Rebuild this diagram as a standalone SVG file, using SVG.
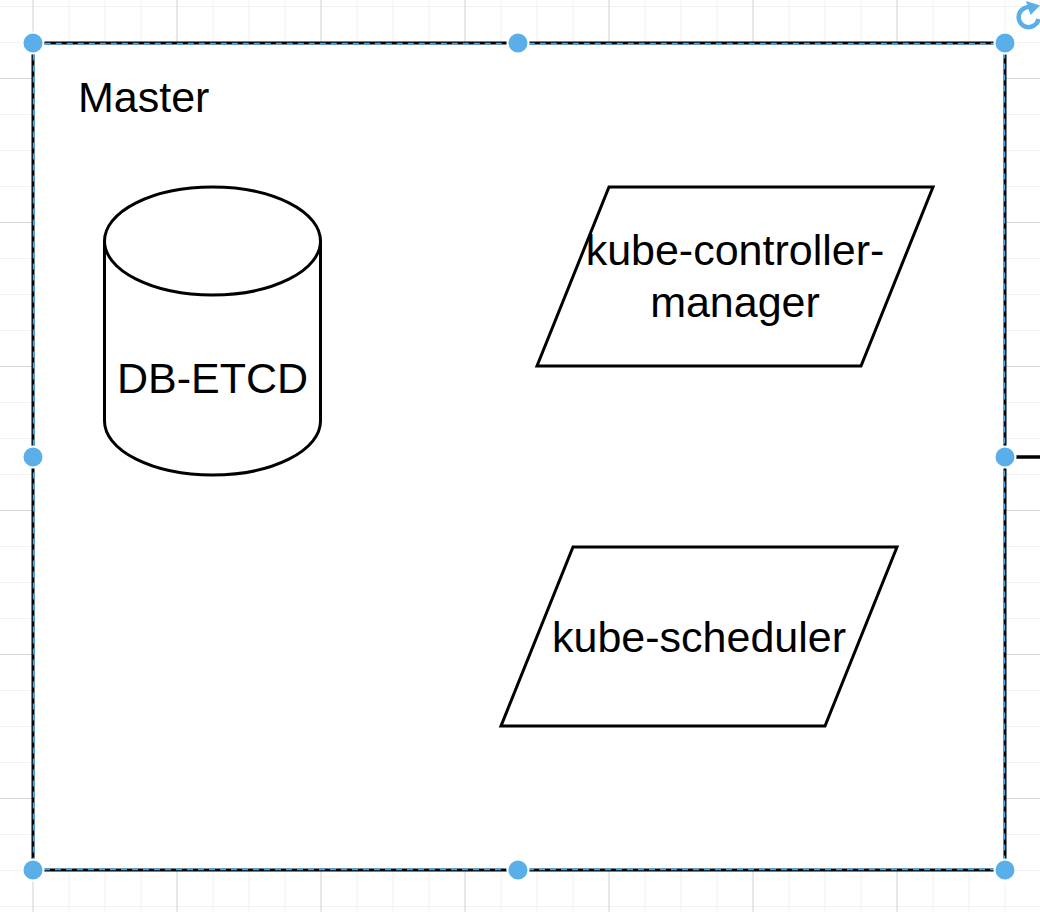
<svg xmlns="http://www.w3.org/2000/svg" width="1040" height="912" viewBox="0 0 1040 912">
  <defs>
    <pattern id="gridMinor" patternUnits="userSpaceOnUse" x="32.5" y="6" width="36" height="36">
      <path d="M0 0.5 H36 M0.5 0 V36" fill="none" stroke="#f1f1f1" stroke-width="1"/>
    </pattern>
    <pattern id="gridMajor" patternUnits="userSpaceOnUse" x="32.5" y="78" width="144" height="144">
      <path d="M0 0.5 H144 M0.5 0 V144" fill="none" stroke="#d6d6d6" stroke-width="1"/>
    </pattern>
    <style>
      .shape { fill: #ffffff; stroke: #000000; stroke-width: 3; stroke-linejoin: miter; }
      .label { font-family: "Liberation Sans", Arial, Helvetica, sans-serif; font-size: 43px; fill: #000000; }
      .mid { text-anchor: middle; }
      .handle { fill: #5aafea; stroke: #ffffff; stroke-width: 2; }
      .sel { fill: none; stroke: #3fa6f0; stroke-width: 2; stroke-dasharray: 6 5; }
    </style>
  </defs>

  <rect x="0" y="0" width="1040" height="912" fill="#ffffff"/>
  <rect x="0" y="0" width="1040" height="912" fill="url(#gridMinor)"/>
  <rect x="0" y="0" width="1040" height="912" fill="url(#gridMajor)"/>

  <g id="master">
    <rect x="33" y="43" width="972" height="827" fill="#ffffff" stroke="#000000" stroke-width="3"/>
    <text class="label" x="78" y="112">Master</text>
  </g>

  <g id="db-etcd">
    <path class="shape" d="M104.5 241 A108 54 0 0 1 320.5 241 L320.5 421 A108 54 0 0 1 104.5 421 Z"/>
    <path class="shape" fill="none" d="M104.5 241 A108 54 0 0 0 320.5 241"/>
    <text class="label mid" x="212.5" y="393">DB-ETCD</text>
  </g>

  <g id="kube-controller-manager">
    <polygon class="shape" points="609,187 933,187 861,366 537,366"/>
    <text class="label mid" x="735" y="265">kube-controller-</text>
    <text class="label mid" x="735" y="317">manager</text>
  </g>

  <g id="kube-scheduler">
    <polygon class="shape" points="573,547 897,547 825,726 501,726"/>
    <text class="label mid" x="699" y="652">kube-scheduler</text>
  </g>

  <g id="connectors">
    <line x1="1015" y1="457" x2="1040" y2="457" stroke="#000000" stroke-width="3.5"/>
  </g>

  <g id="selection">
    <rect class="sel" x="33.8" y="43.8" width="970.4" height="825.4"/>
    <circle class="handle" cx="33" cy="43" r="10.5"/>
    <circle class="handle" cx="518" cy="43" r="10.5"/>
    <circle class="handle" cx="1005" cy="43" r="10.5"/>
    <circle class="handle" cx="33" cy="457" r="10.5"/>
    <circle class="handle" cx="1005" cy="457" r="10.5"/>
    <circle class="handle" cx="33" cy="870" r="10.5"/>
    <circle class="handle" cx="518" cy="870" r="10.5"/>
    <circle class="handle" cx="1005" cy="870" r="10.5"/>
    <g id="rotate" fill="none" stroke="#5aafea">
      <path d="M1034.5 9 A10 10 0 1 0 1038.5 19" stroke-width="4.5"/>
      <path d="M1026 1 L1040 5.5 L1030.5 15 Z" fill="#5aafea" stroke="none"/>
    </g>
  </g>
</svg>
